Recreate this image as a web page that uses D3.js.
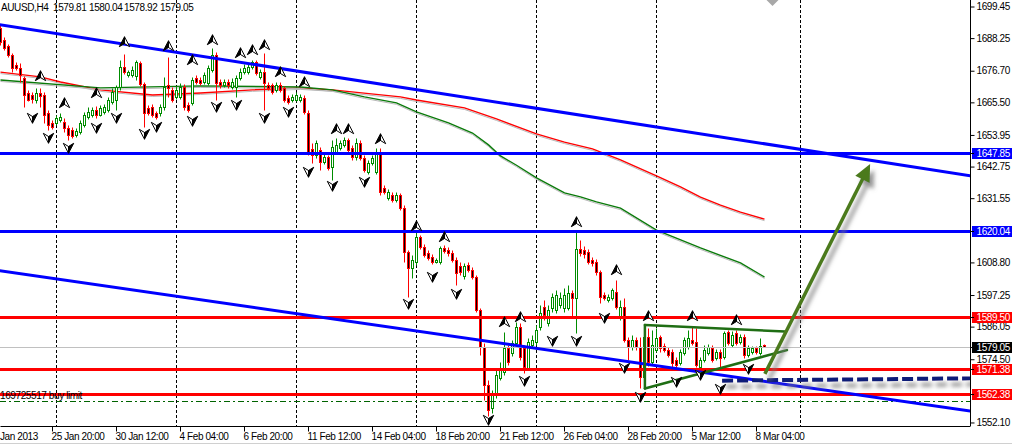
<!DOCTYPE html>
<html><head><meta charset="utf-8">
<script src="https://cdn.jsdelivr.net/npm/d3@7"></script>
<style>
html,body{margin:0;padding:0;background:#fff;overflow:hidden}
svg{display:block}
text{font-family:"Liberation Sans",Arial,sans-serif;font-size:10px;letter-spacing:-0.4px;fill:#000}
</style></head><body>
<svg id="c" width="1012" height="446"></svg>
<script>
// ---------------- DATA ----------------
const symbol = "AUUSD,H4";
const headerValues = ["1579.81", "1580.04", "1578.92", "1579.05"];

const open = [1692.0,1687.8,1685.6,1682.4,1678.9,1677.8,1674.3,1669.0,1668.3,1666.5,
1669.0,1668.3,1661.9,1658.4,1658.4,1659.4,1658.7,1656.6,1655.9,1654.1,
1655.2,1657.6,1660.5,1661.2,1663.0,1661.2,1662.3,1663.0,1665.8,1666.5,
1671.1,1678.2,1675.4,1675.4,1675.0,1679.6,1672.2,1663.7,1664.0,1661.9,
1661.9,1664.0,1671.8,1670.1,1667.6,1667.6,1671.1,1664.7,1665.5,1674.3,
1673.6,1672.9,1672.5,1677.1,1682.4,1672.9,1671.8,1672.9,1671.1,1671.1,
1674.3,1676.4,1676.4,1678.2,1680.0,1674.7,1676.4,1671.8,1671.8,1670.1,
1671.8,1670.8,1667.2,1666.5,1666.5,1666.5,1667.2,1661.9,1649.2,1647.0,
1648.8,1644.6,1646.3,1642.7,1648.1,1649.5,1650.6,1652.3,1649.5,1646.3,
1651.3,1645.9,1641.0,1644.2,1641.0,1647.7,1635.3,1631.9,1632.9,1631.1,
1632.9,1628.2,1612.7,1607.0,1609.1,1618.0,1614.4,1612.3,1610.9,1609.1,
1609.1,1614.1,1613.4,1612.3,1609.8,1607.7,1604.2,1608.1,1606.3,1603.8,
1592.1,1579.0,1565.6,1557.4,1562.0,1568.0,1570.2,1578.6,1576.9,1580.4,
1586.1,1578.6,1571.6,1579.7,1580.8,1586.1,1593.2,1587.5,1592.8,1592.1,
1593.9,1592.8,1592.8,1598.1,1596.4,1613.7,1613.4,1612.7,1609.8,1609.1,
1605.6,1597.4,1595.7,1596.4,1598.5,1589.3,1593.2,1581.5,1579.0,1581.5,
1579.0,1568.4,1582.6,1573.7,1577.9,1582.6,1579.4,1577.9,1577.2,1574.4,
1573.3,1576.9,1579.0,1581.5,1580.8,1571.9,1574.4,1576.9,1578.6,1575.1,
1577.2,1575.5,1584.3,1579.7,1583.9,1580.8,1582.6,1576.2,1577.2,1578.6,
1576.9,1579.81];
const high = [1693.1,1688.8,1686.3,1683.2,1680.0,1679.6,1675.0,1670.1,1669.3,1670.8,
1670.8,1669.3,1663.0,1659.4,1661.2,1661.9,1660.1,1657.6,1656.9,1656.6,
1659.4,1662.3,1664.0,1664.0,1664.4,1664.7,1665.1,1667.6,1670.8,1671.8,
1680.7,1682.8,1677.1,1678.5,1680.7,1680.3,1672.9,1664.7,1665.1,1662.6,
1665.1,1674.7,1681.7,1671.1,1671.5,1672.5,1672.2,1665.8,1674.7,1675.4,
1674.7,1676.4,1678.9,1684.9,1683.5,1674.0,1674.0,1674.0,1674.3,1675.4,
1677.8,1679.3,1679.6,1680.7,1680.7,1677.5,1683.2,1672.9,1672.5,1672.9,
1672.9,1671.5,1668.3,1668.6,1669.3,1668.6,1668.3,1663.0,1651.3,1652.3,
1649.9,1647.4,1647.0,1652.3,1653.1,1652.3,1653.4,1653.1,1650.6,1653.1,
1652.3,1647.0,1645.3,1647.0,1649.5,1649.5,1636.4,1635.0,1633.9,1633.9,
1633.6,1629.3,1613.4,1611.6,1619.7,1618.7,1615.5,1613.4,1612.0,1610.5,
1614.8,1615.2,1614.4,1613.4,1610.9,1609.1,1608.8,1609.1,1607.4,1604.5,
1592.8,1580.4,1567.3,1563.8,1570.9,1573.7,1584.3,1579.7,1581.5,1587.9,
1587.5,1579.7,1582.2,1583.3,1586.8,1593.9,1595.7,1593.9,1598.1,1599.2,
1598.5,1599.9,1601.0,1599.2,1619.7,1616.9,1614.8,1613.7,1610.9,1610.2,
1606.3,1598.5,1597.8,1599.9,1602.7,1595.7,1596.4,1582.6,1583.3,1582.6,
1582.6,1586.1,1585.7,1585.0,1585.7,1583.3,1580.4,1579.0,1578.3,1575.5,
1578.3,1582.6,1585.0,1586.1,1585.7,1575.5,1579.7,1580.1,1579.7,1578.3,
1578.3,1584.6,1585.0,1584.6,1585.0,1583.6,1583.6,1579.7,1579.4,1579.4,
1582.2,1580.04];
const low = [1686.0,1684.2,1681.7,1676.4,1677.1,1672.9,1664.0,1666.2,1665.5,1665.5,
1664.0,1658.4,1655.9,1656.2,1657.6,1658.7,1655.2,1652.3,1653.1,1653.4,
1654.5,1656.9,1659.8,1660.5,1660.1,1660.8,1661.5,1662.3,1665.1,1663.0,
1670.1,1675.7,1674.7,1674.7,1673.6,1671.5,1656.9,1661.2,1660.5,1659.8,
1660.8,1663.0,1667.6,1665.8,1666.9,1666.9,1663.0,1662.3,1664.7,1672.2,
1671.8,1672.2,1671.8,1676.4,1666.5,1670.8,1671.1,1670.8,1670.4,1667.6,
1673.6,1675.7,1675.7,1677.5,1675.4,1674.0,1663.0,1670.1,1668.6,1669.3,
1669.3,1665.8,1665.1,1665.8,1666.2,1665.8,1661.5,1647.0,1644.2,1645.9,
1641.7,1643.9,1641.7,1638.2,1647.4,1648.8,1649.9,1648.1,1645.3,1645.3,
1645.3,1641.0,1640.3,1643.4,1640.3,1632.9,1633.2,1631.1,1630.4,1630.4,
1627.5,1609.1,1596.7,1603.5,1608.1,1613.7,1610.9,1609.8,1608.4,1608.8,
1608.4,1612.3,1611.3,1609.1,1601.0,1604.5,1603.1,1605.6,1603.1,1591.4,
1576.2,1560.2,1554.6,1555.6,1561.0,1567.3,1569.1,1572.6,1575.8,1579.4,
1574.4,1569.8,1570.9,1578.6,1579.7,1585.0,1588.6,1586.5,1591.4,1591.1,
1592.8,1591.4,1592.1,1589.3,1583.9,1611.3,1610.5,1608.4,1607.7,1604.5,
1594.6,1595.7,1594.9,1595.7,1592.5,1588.6,1580.8,1574.4,1577.9,1577.9,
1564.5,1567.3,1572.3,1572.6,1577.2,1577.2,1577.2,1575.5,1571.9,1570.9,
1572.6,1576.2,1578.3,1579.7,1571.9,1571.2,1573.7,1576.2,1573.7,1574.4,
1571.9,1574.8,1579.7,1579.0,1579.7,1580.1,1575.1,1575.5,1576.5,1576.5,
1576.2,1578.92];
const close = [1687.0,1684.9,1682.4,1677.8,1677.8,1675.4,1668.3,1666.5,1666.9,1669.0,
1667.9,1661.2,1657.6,1656.9,1660.1,1660.5,1656.6,1654.1,1653.8,1655.5,
1658.4,1661.2,1662.3,1663.0,1661.2,1663.7,1664.0,1666.5,1669.3,1671.1,
1678.2,1676.4,1676.4,1677.1,1680.0,1672.2,1661.9,1661.9,1661.2,1660.5,
1664.0,1671.1,1670.8,1666.5,1670.1,1671.1,1664.0,1663.0,1673.6,1672.9,
1672.5,1675.4,1677.8,1682.4,1672.5,1671.8,1672.9,1671.8,1672.9,1674.3,
1676.4,1677.8,1678.2,1680.0,1676.1,1676.4,1672.5,1670.8,1669.3,1671.8,
1670.1,1666.5,1665.8,1667.6,1668.3,1667.6,1662.3,1647.7,1647.0,1651.3,
1644.6,1646.3,1642.4,1649.9,1650.6,1651.3,1652.3,1648.8,1646.3,1651.3,
1645.9,1641.7,1644.2,1645.9,1647.7,1633.9,1633.9,1633.9,1631.1,1632.9,
1628.2,1612.7,1607.0,1609.8,1618.0,1614.4,1611.6,1610.5,1609.1,1609.8,
1614.1,1613.0,1612.3,1609.8,1605.3,1605.6,1607.7,1606.3,1603.8,1592.1,
1579.0,1565.6,1556.7,1562.0,1569.1,1571.6,1578.6,1573.7,1580.4,1586.1,
1575.5,1571.9,1580.8,1581.5,1585.0,1591.1,1590.3,1592.1,1596.7,1597.4,
1596.4,1597.4,1598.1,1596.4,1613.7,1612.3,1612.0,1609.1,1608.8,1605.6,
1596.7,1596.4,1596.7,1599.2,1593.2,1593.2,1581.5,1579.0,1581.5,1579.0,
1568.4,1582.6,1573.7,1579.7,1582.2,1578.6,1577.9,1576.2,1573.3,1572.6,
1577.2,1581.5,1582.2,1580.4,1572.6,1574.4,1577.9,1579.0,1574.4,1577.2,
1575.1,1583.9,1580.4,1583.3,1580.4,1582.6,1576.2,1578.6,1578.6,1577.2,
1579.4,1579.05];

// moving averages (bar index, price)
const maRedIdx = [0,10,15,25,38,50,63,75,83,100,104,116,124,134,141,148,155,164,170,175,180,185,191];
const maRedVal = [1676.4,1674.7,1672.9,1670.1,1668.3,1669.0,1670.1,1670.8,1670.1,1667.6,1666.5,1663.7,1659.8,1654.5,1651.6,1649.2,1645.3,1639.6,1635.7,1632.1,1629.3,1626.8,1624.3];
const maGreenIdx = [0,25,50,75,83,91,99,104,112,118,122,125,129,134,141,145,149,155,164,175,185,191];
const maGreenVal = [1673.6,1670.8,1671.5,1671.1,1670.1,1667.6,1665.5,1662.3,1658.4,1654.8,1650.6,1646.7,1643.4,1638.9,1633.6,1632.2,1630.4,1628.2,1620.4,1614.1,1608.8,1603.8];

// fractals (bar index, glyph price)
const fractalUpIdx = [10,16,24,31,42,48,53,60,63,66,70,76,84,87,95,104,111,126,130,144,154,162,173,184];
const fractalUpPrice = [1675.0,1665.5,1669.0,1687.0,1685.6,1680.7,1687.8,1683.2,1684.2,1686.0,1676.4,1672.9,1656.2,1656.2,1652.7,1621.9,1618.0,1587.9,1589.7,1623.3,1606.3,1590.0,1590.0,1588.6];
const fractalDownIdx = [8,12,17,24,29,36,39,48,54,59,66,72,77,83,91,102,108,114,122,131,138,144,151,156,160,169,175,180,187];
const fractalDownPrice = [1660.1,1653.1,1649.5,1656.6,1660.1,1654.5,1656.9,1659.1,1664.0,1664.7,1660.1,1662.3,1641.0,1636.0,1637.5,1594.3,1603.8,1597.8,1553.0,1566.9,1581.1,1581.1,1589.3,1571.6,1561.3,1566.6,1569.1,1564.2,1571.2];

// levels
const blueLevels = [1647.85, 1620.04];
const redLevels = [1589.50, 1571.38, 1562.38];
const bidLevel = 1579.05;
const buyLimitLevel = 1559.9;
const buyLimitLabel = "169725517 buy limit";

// drawn objects (bar index, price)
const trendUpper = [[0,1693.1],[240,1640.2]];
const trendLower = [[0,1606.0],[240,1556.8]];
const triTop = [[161.1,1586.8],[196.1,1584.5]];
const triBottom = [[161.1,1564.3],[196.6,1577.9]];
const triLeft = [[161.1,1586.8],[161.1,1564.3]];
const arrowPts = [[191.1,1569.5],[217.4,1643.8]];
const dashedPts = [[180.4,1567.1],[242.5,1567.9]];
const shiftMarkIdx = 193;

// axes
const yTicks = [1699.45,1688.25,1676.70,1665.50,1653.95,1642.75,1631.55,1608.80,1597.25,1586.05,1574.50,1552.10];
const xTickIdx = [13,29,45,61,77,93,109,125,141,157,173,189];
const xTickLabels = ["25 Jan 20:00","30 Jan 12:00","4 Feb 04:00","6 Feb 20:00","11 Feb 12:00","14 Feb 04:00","18 Feb 20:00","21 Feb 12:00","26 Feb 04:00","28 Feb 20:00","5 Mar 12:00","8 Mar 04:00"];
const firstDateLabel = "Jan 2013";
const gridIdx = [14,44,74,104,134,164,200];

// ---------------- DRAW ----------------
const svg = d3.select('#c');
const PW = 970, PH = 426;
const x = d3.scaleLinear().domain([0, 242.5]).range([0.5, 970.5]);
const y = d3.scaleLinear().domain([1551.03, 1701.93]).range([PH, 0]);
const ry = v => Math.round(y(v)) + 0.5;

const defs = svg.append('defs');
defs.append('clipPath').attr('id','plot').append('rect').attr('x',0).attr('y',0).attr('width',PW).attr('height',PH);
const flt = defs.append('filter').attr('id','sh').attr('filterUnits','userSpaceOnUse')
  .attr('x',0).attr('y',0).attr('width',1012).attr('height',446);
flt.append('feDropShadow').attr('dx',4).attr('dy',6).attr('stdDeviation',2.2)
  .attr('flood-color','#7a7a7a').attr('flood-opacity',0.8);

svg.append('rect').attr('width',1012).attr('height',446).attr('fill','#fff');
const g = svg.append('g').attr('clip-path','url(#plot)');

// vertical period separators
g.selectAll('line.vg').data(gridIdx).join('line').attr('class','vg')
  .attr('x1',d=>x(d)).attr('x2',d=>x(d)).attr('y1',0).attr('y2',PH)
  .attr('stroke','#000').attr('stroke-width',1).attr('stroke-dasharray','3,2');

// moving averages
const lineGen = d3.line().x(d=>x(d[0])).y(d=>y(d[1]));
function drawMA(idx, vals, col){
  const pts = idx.map((d,i)=>[d, vals[i]]);
  g.append('path').attr('d', lineGen(pts)).attr('fill','none').attr('stroke','#b8b8b8')
    .attr('stroke-width',1).attr('transform','translate(0,1.5)');
  g.append('path').attr('d', lineGen(pts)).attr('fill','none').attr('stroke',col).attr('stroke-width',1.4);
}
drawMA(maRedIdx, maRedVal, '#ff0000');
drawMA(maGreenIdx, maGreenVal, '#0a7a0a');

// candles
const bull = '#008c00', bear = '#ff0000';
const cg = g.append('g');
open.forEach((o,i)=>{
  const c = close[i], h = high[i], l = low[i];
  const up = c >= o;
  const col = up ? bull : bear;
  const X = x(i);
  cg.append('line').attr('x1',X).attr('x2',X).attr('y1',ry(h)).attr('y2',ry(l)).attr('stroke',col);
  const yt = ry(Math.max(o,c)), yb = ry(Math.min(o,c));
  cg.append('rect').attr('x',X-1).attr('y',yt).attr('width',2).attr('height',Math.max(0,yb-yt))
    .attr('fill', up ? '#fff' : '#000').attr('stroke',col).attr('stroke-width',1);
});

// bid line
g.append('line').attr('x1',0).attr('x2',PW).attr('y1',ry(bidLevel)).attr('y2',ry(bidLevel))
  .attr('stroke','#c0c0c0').attr('stroke-width',1);
// buy limit
g.append('line').attr('x1',0).attr('x2',PW).attr('y1',ry(buyLimitLevel)).attr('y2',ry(buyLimitLevel))
  .attr('stroke','#006400').attr('stroke-width',1).attr('stroke-dasharray','6,3,2,3');

// horizontal levels
g.selectAll('line.bl').data(blueLevels).join('line').attr('class','bl')
  .attr('x1',0).attr('x2',PW).attr('y1',d=>ry(d)).attr('y2',d=>ry(d))
  .attr('stroke','#0000ff').attr('stroke-width',3);
g.selectAll('line.rl').data(redLevels).join('line').attr('class','rl')
  .attr('x1',0).attr('x2',PW).attr('y1',d=>ry(d)).attr('y2',d=>ry(d))
  .attr('stroke','#ff0000').attr('stroke-width',3);

g.append('text').attr('x',0).attr('y',ry(redLevels[2])+4.5).text(buyLimitLabel);

// trend lines (rays extended to plot edge)
function extend(p, m0, m1){
  const s = (p[1][1]-p[0][1])/(p[1][0]-p[0][0]);
  return [[m0, p[0][1]+s*(m0-p[0][0])],[m1, p[0][1]+s*(m1-p[0][0])]];
}
[trendUpper, trendLower].forEach(t=>{
  g.append('path').attr('d', lineGen(extend(t,-2,244))).attr('stroke','#0000ff')
    .attr('stroke-width',3).attr('fill','none');
});

// triangle
[triTop, triBottom, triLeft].forEach(t=>{
  g.append('path').attr('d', lineGen(t)).attr('stroke','#1f6e14').attr('stroke-width',2.5)
    .attr('fill','none').attr('stroke-linecap','round');
});

// fractals (arrowhead glyphs, left/right halves)
const GW = 5.2, GH = 5.2, GN = 1.5;
const fg = g.append('g');
fractalUpIdx.forEach((m,i)=>{
  const cx = x(m), cy = Math.round(y(fractalUpPrice[i]));
  fg.append('path').attr('d',`M${cx},${cy-GH}L${cx+GW},${cy+GH-0.5}L${cx},${cy+GN}Z`)
    .attr('fill','#fff').attr('stroke','#000').attr('stroke-width',1);
  fg.append('path').attr('d',`M${cx},${cy-GH}L${cx-GW},${cy+GH-0.5}L${cx},${cy+GN}Z`)
    .attr('fill','#000').attr('stroke','#000').attr('stroke-width',1);
});
fractalDownIdx.forEach((m,i)=>{
  const cx = x(m), cy = Math.round(y(fractalDownPrice[i]));
  fg.append('path').attr('d',`M${cx},${cy+GH}L${cx-GW},${cy-GH+0.5}L${cx},${cy-GN}Z`)
    .attr('fill','#fff').attr('stroke','#000').attr('stroke-width',1);
  fg.append('path').attr('d',`M${cx},${cy+GH}L${cx+GW},${cy-GH+0.5}L${cx},${cy-GN}Z`)
    .attr('fill','#000').attr('stroke','#000').attr('stroke-width',1);
});

// navy dashed line with shadow
g.append('path').attr('d', lineGen(dashedPts)).attr('stroke','#111a78').attr('stroke-width',4)
  .attr('stroke-dasharray','11,4').attr('fill','none').attr('filter','url(#sh)');

// arrow with shadow
{
  const x0 = x(arrowPts[0][0]), y0 = y(arrowPts[0][1]);
  const x1 = x(arrowPts[1][0]), y1 = y(arrowPts[1][1]);
  const len = Math.hypot(x1-x0, y1-y0), ux = (x1-x0)/len, uy = (y1-y0)/len;
  const hl = 17, hw = 8;
  const bx = x1-ux*hl, by = y1-uy*hl;
  const ag = svg.append('g').attr('filter','url(#sh)');
  ag.append('line').attr('x1',x0).attr('y1',y0).attr('x2',bx+ux*2).attr('y2',by+uy*2)
    .attr('stroke','#4b7a1f').attr('stroke-width',3.5);
  ag.append('path').attr('d',`M${x1},${y1}L${bx-uy*hw},${by+ux*hw}L${bx+uy*hw},${by-ux*hw}Z`)
    .attr('fill','#4b7a1f');
}

// chart shift marker
svg.append('path').attr('d',`M${x(shiftMarkIdx)-6},0L${x(shiftMarkIdx)+6},0L${x(shiftMarkIdx)},6Z`).attr('fill','#a8a8a8');

// header
svg.append('text').attr('x',1).attr('y',10.5).text(symbol);
const hx = [53, 89, 124, 160];
headerValues.forEach((t,i)=> svg.append('text').attr('x',hx[i]).attr('y',10.5).text(t));

// y axis
const yAxis = svg.append('g').attr('transform','translate(970.5,0)')
  .call(d3.axisRight(y).tickValues(yTicks).tickFormat(d3.format('.2f')).tickSize(4).tickSizeOuter(0).tickPadding(2).offset(0));
yAxis.select('.domain').attr('stroke','#000');
yAxis.selectAll('.tick line').attr('stroke','#000');
yAxis.selectAll('text').attr('font-family',null).attr('font-size',null).style('fill','#000');

// level label boxes
const boxes = [
  ...blueLevels.map(v=>({v, bg:'#0000ff', fg:'#fff'})),
  ...redLevels.map(v=>({v, bg:'#ff0000', fg:'#fff'})),
  {v:bidLevel, bg:'#000', fg:'#fff'}
];
boxes.forEach(b=>{
  const Y = y(b.v);
  svg.append('rect').attr('x',972).attr('y',Math.round(Y)-5).attr('width',40).attr('height',11).attr('fill',b.bg);
  svg.append('line').attr('x1',970.5).attr('x2',974).attr('y1',Math.round(Y)+0.5).attr('y2',Math.round(Y)+0.5).attr('stroke','#000');
  svg.append('text').attr('x',976.5).attr('y',Math.round(Y)+4).style('fill',b.fg).text(b.v.toFixed(2));
});

// x axis
const xAxis = svg.append('g').attr('transform','translate(0,426.5)')
  .call(d3.axisBottom(x).tickValues(xTickIdx).tickFormat((d,i)=>xTickLabels[i]).tickSize(5).tickSizeOuter(0).tickPadding(2).offset(0));
xAxis.select('.domain').attr('stroke','#000');
xAxis.selectAll('.tick line').attr('stroke','#000');
xAxis.selectAll('text').attr('font-family',null).attr('font-size',null).attr('text-anchor','start').attr('x',-1).attr('dy',null).attr('y',13).style('fill','#000');
svg.append('text').attr('x',0).attr('y',439.5).text(firstDateLabel);

svg.append('line').attr('x1',0).attr('x2',1012).attr('y1',443.5).attr('y2',443.5).attr('stroke','#d0d0d0');
</script>
</body></html>
